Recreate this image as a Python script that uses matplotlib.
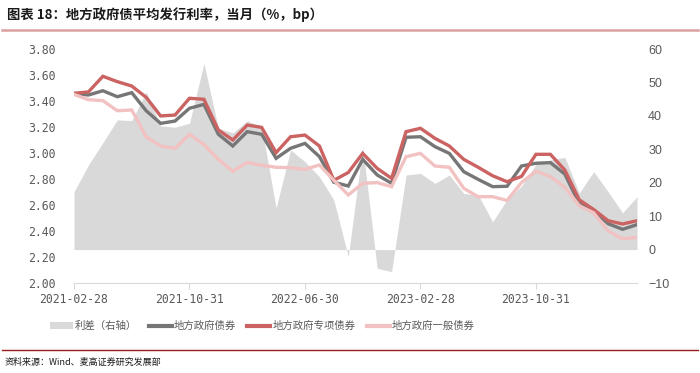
import numpy as np
import pandas as pd
import matplotlib
matplotlib.use("Agg")
import matplotlib.pyplot as plt
from matplotlib.patches import Patch
from matplotlib.lines import Line2D

plt.rcParams['font.family'] = ['Noto Sans CJK SC', 'DejaVu Sans']

# monthly data, 2021-02 .. 2024-05
months = pd.period_range('2021-02', '2024-05', freq='M')

# 利差 (bp, right axis)
spread = [17.3, 25.3, 32.0, 38.8, 38.6, 47.2, 37.0, 36.6, 37.8, 55.7,
          36.3, 34.9, 38.5, 36.8, 12.4, 29.8, 26.3, 21.8, 14.8, -2.1,
          30.8, -5.6, -6.6, 22.3, 22.8, 19.8, 22.3, 16.8, 16.3, 8.3,
          15.0, 19.0, 25.5, 26.8, 27.6, 16.9, 23.3, 17.3, 11.0, 15.8]
# 地方政府债券 (%)
gov = [3.459, 3.446, 3.479, 3.433, 3.464, 3.325, 3.228, 3.246, 3.344, 3.374,
       3.144, 3.054, 3.164, 3.144, 2.959, 3.036, 3.074, 2.972, 2.775, 2.746,
       2.951, 2.831, 2.767, 3.121, 3.125, 3.049, 2.997, 2.856, 2.797, 2.741,
       2.744, 2.900, 2.921, 2.926, 2.838, 2.610, 2.560, 2.456, 2.413, 2.449]
# 地方政府专项债券 (%)
special = [3.459, 3.470, 3.590, 3.549, 3.515, 3.428, 3.285, 3.292, 3.421, 3.413,
           3.177, 3.100, 3.215, 3.197, 3.003, 3.125, 3.138, 3.054, 2.790, 2.850,
           2.997, 2.882, 2.805, 3.164, 3.190, 3.113, 3.054, 2.951, 2.890, 2.825,
           2.779, 2.820, 2.990, 2.990, 2.869, 2.640, 2.565, 2.479, 2.454, 2.479]
# 地方政府一般债券 (%)
general = [3.451, 3.410, 3.403, 3.325, 3.331, 3.125, 3.054, 3.036, 3.144, 3.065,
           2.951, 2.860, 2.927, 2.905, 2.890, 2.887, 2.874, 2.908, 2.790, 2.677,
           2.767, 2.772, 2.741, 2.972, 2.997, 2.900, 2.890, 2.728, 2.664, 2.664,
           2.635, 2.773, 2.860, 2.818, 2.737, 2.595, 2.540, 2.400, 2.340, 2.351]

labels = ["利差（右轴）", "地方政府债券", "地方政府专项债券", "地方政府一般债券"]
c_area = "#d9d9d9"
c_gov = "#767676"
c_spec = "#cc6363"
c_gen = "#f2c2c2"
txt = "#595959"

x = np.arange(len(months))

fig = plt.figure(figsize=(7, 3.73), dpi=100)
ax = fig.add_axes([74/700, 1-283/373, (637-74)/700, (283-49)/373])
ax2 = ax.twinx()

ax2.fill_between(x, 0, spread, color=c_area, lw=0)
ax.set_zorder(ax2.get_zorder() + 1)
ax.patch.set_visible(False)

ax.plot(x, gov, color=c_gov, lw=2.4, solid_joinstyle='miter')
ax.plot(x, special, color=c_spec, lw=2.4, solid_joinstyle='miter')
ax.plot(x, general, color=c_gen, lw=2.4, solid_joinstyle='miter')

ax.set_xlim(0, len(x) - 1)
ax.set_ylim(2.0, 3.8)
ax.set_yticks(np.arange(2.0, 3.81, 0.2))
ax.set_yticklabels(["%.2f" % v for v in np.arange(2.0, 3.81, 0.2)],
                   family='DejaVu Sans Mono')
ax2.set_ylim(-10, 60)
ax2.set_yticks(range(-10, 61, 10))

tick_idx = list(range(0, len(x), 8))
ax.set_xticks(tick_idx)
ax.set_xticklabels([months[i].end_time.strftime('%Y-%m-%d') for i in tick_idx],
                   family='DejaVu Sans Mono')

for a in (ax, ax2):
    for s in a.spines.values():
        s.set_visible(False)
ax.spines['bottom'].set_visible(True)
ax.spines['bottom'].set_color(c_area)

ax.tick_params(axis='x', length=4, color=c_area, labelsize=8.3, labelcolor=txt, pad=3)
ax.tick_params(axis='y', length=0, labelsize=8.3, labelcolor=txt, pad=13)
ax2.tick_params(axis='y', length=0, labelsize=9, labelcolor=txt, pad=8)
for t in ax2.get_yticklabels():
    t.set_family('Liberation Sans')

handles = [Patch(facecolor=c_area, edgecolor='none'),
           Line2D([], [], color=c_gov, lw=3),
           Line2D([], [], color=c_spec, lw=3),
           Line2D([], [], color=c_gen, lw=3)]
leg = fig.legend(handles, labels, loc='center', bbox_to_anchor=(0.375, 1-326/373),
                 ncol=4, frameon=False, fontsize=7.5, handlelength=2.2,
                 handleheight=0.6, handletextpad=0.2, columnspacing=1.1)
for t in leg.get_texts():
    t.set_color(txt)

fig.text(7/700, 1-15/373, "图表 18：地方政府债平均发行利率，当月（%，bp）",
         fontsize=9.6, fontweight='bold', va='center', color='#1a1a1a')
fig.add_artist(Line2D([0.003, 0.997], [1-29.5/373]*2, transform=fig.transFigure,
                      color='#dba0a0', lw=1.8))
fig.add_artist(Line2D([0.003, 0.997], [1-350/373]*2, transform=fig.transFigure,
                      color='#9b1c1c', lw=1.0))
fig.text(5/700, 1-362/373, "资料来源：Wind、麦高证券研究发展部",
         fontsize=6.5, va='center', color='#1a1a1a')

fig.savefig("out.png", dpi=100)
